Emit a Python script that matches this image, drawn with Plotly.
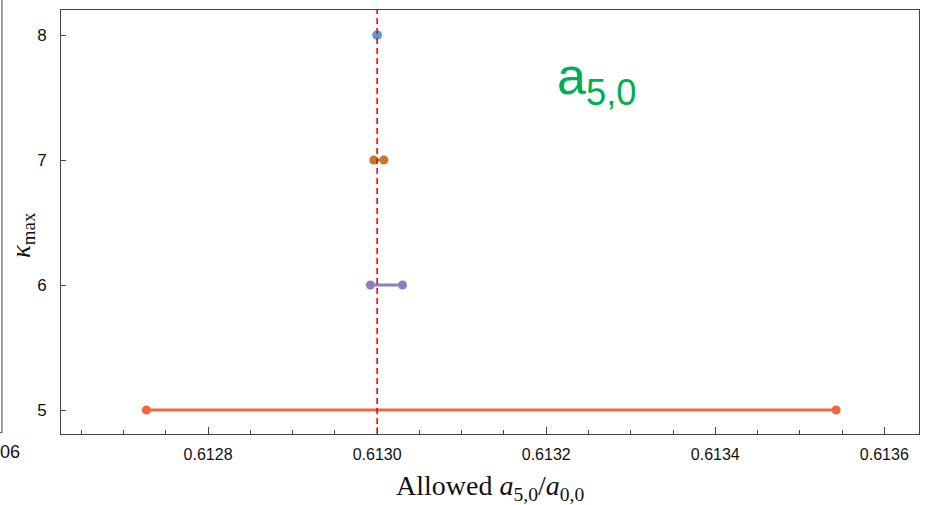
import plotly.graph_objects as go

kmax = [5, 6, 7, 8]
lower = [0.612727, 0.612992, 0.612996, 0.6129995]
upper = [0.613543, 0.613030, 0.613008, 0.6130005]
colors = ["#EE6A3A", "#8B7FC0", "#C8782A", "#5B9BD5"]
ref_value = 0.6130
x_ticks = [0.6128, 0.6130, 0.6132, 0.6134, 0.6136]
x_tick_labels = ["0.6128", "0.6130", "0.6132", "0.6134", "0.6136"]
y_ticks = [5, 6, 7, 8]

fig = go.Figure()
for k, lo, hi, c in zip(kmax, lower, upper, colors):
    fig.add_trace(go.Scatter(
        x=[lo, hi], y=[k, k], mode="lines+markers",
        line=dict(color=c, width=3),
        marker=dict(color=c, size=9),
        showlegend=False, hoverinfo="skip"))

fig.add_shape(type="line", xref="x", yref="paper", x0=ref_value, x1=ref_value,
              y0=0, y1=1, line=dict(color="#FF0000", width=1.6, dash="6px,4px"))

# cropped neighbouring panel edge at the left
fig.add_shape(type="line", xref="paper", yref="paper", x0=-0.0688, x1=-0.0688,
              y0=0.003, y1=1.03, line=dict(color="#444", width=1))
fig.add_shape(type="line", xref="paper", yref="paper", x0=-0.075, x1=-0.0688,
              y0=0.003, y1=0.003, line=dict(color="#444", width=1))
fig.add_annotation(text="06", xref="paper", yref="paper", x=-0.0735, y=-0.042,
                   xanchor="left", yanchor="middle", showarrow=False,
                   font=dict(family="Liberation Sans", size=18, color="#111"))

fig.add_annotation(text="a<sub>5,0</sub>", xref="paper", yref="paper",
                   x=0.576, y=0.835, xanchor="left", yanchor="middle", showarrow=False,
                   font=dict(family="Liberation Sans", size=52, color="#00B050"))

fig.add_annotation(text="Allowed <i>a</i><sub>5,0</sub>/<i>a</i><sub>0,0</sub>",
                   xref="paper", yref="paper", x=0.5, y=-0.125,
                   xanchor="center", yanchor="middle", showarrow=False,
                   font=dict(family="Liberation Serif", size=28, color="#111"))
fig.add_annotation(text="<i>κ</i><sub>max</sub>", xref="paper", yref="paper",
                   x=-0.045, y=0.47, xanchor="center", yanchor="middle",
                   textangle=-90, showarrow=False,
                   font=dict(family="Liberation Serif", size=27, color="#111"))

fig.update_xaxes(range=[0.612626, 0.613641], tickvals=x_ticks, ticktext=x_tick_labels,
                 ticks="inside", ticklen=7, tickcolor="#444", tickwidth=1,
                 minor=dict(dtick=0.00005, ticks="inside", ticklen=4, tickcolor="#444"),
                 showline=True, linecolor="#444", linewidth=1, mirror=True,
                 showgrid=False, zeroline=False, ticklabelstandoff=6,
                 tickfont=dict(family="Liberation Sans", size=16, color="#111"))
fig.update_yaxes(range=[4.808, 8.2], tickvals=y_ticks,
                 ticks="inside", ticklen=5, tickcolor="#444", tickwidth=1,
                 showline=True, linecolor="#444", linewidth=1, mirror=True,
                 showgrid=False, zeroline=False, ticklabelstandoff=10,
                 tickfont=dict(family="Liberation Sans", size=17, color="#111"))

fig.update_layout(width=930, height=505, margin=dict(l=61, r=11, t=10, b=71),
                  plot_bgcolor="white", paper_bgcolor="white")
fig.write_html("out.html")
